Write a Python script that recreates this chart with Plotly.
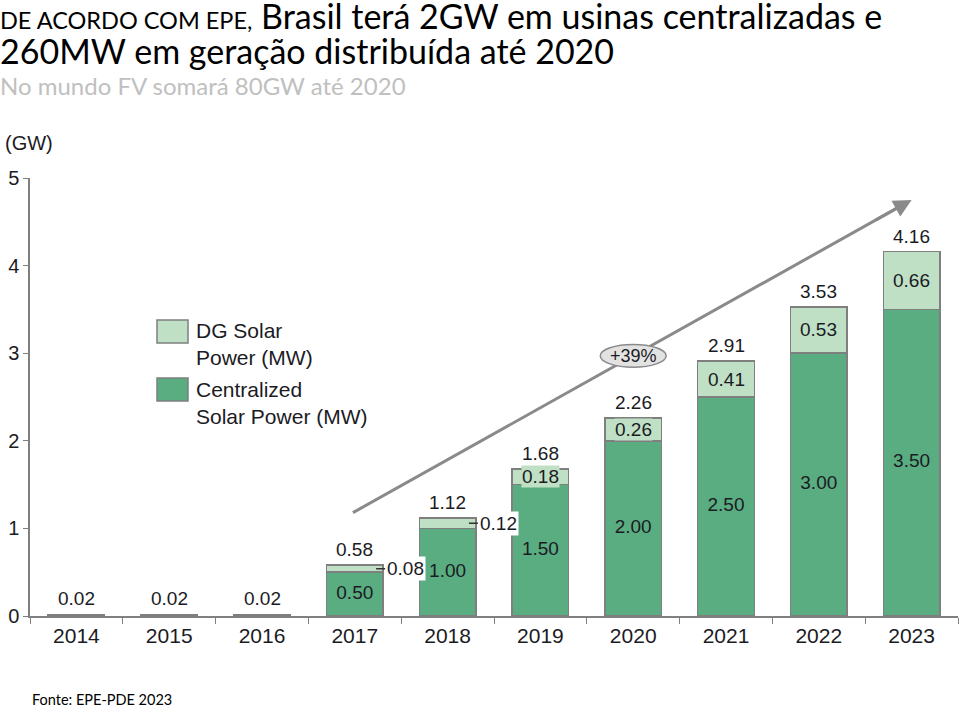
import plotly.graph_objects as go

years = ['2014', '2015', '2016', '2017', '2018', '2019', '2020', '2021', '2022', '2023']
centralized = [0.02, 0.02, 0.02, 0.50, 1.00, 1.50, 2.00, 2.50, 3.00, 3.50]
dg = [0.00, 0.00, 0.00, 0.08, 0.12, 0.18, 0.26, 0.41, 0.53, 0.66]
totals = [0.02, 0.02, 0.02, 0.58, 1.12, 1.68, 2.26, 2.91, 3.53, 4.16]
y_ticks = [0, 1, 2, 3, 4, 5]

W, H = 960, 707
ML, MT = 30, 178
PR, PB = 958, 616
MR = W - PR
MB = H - PB
PW, PH = W - ML - MR, H - MT - MB
DARK = '#5aad80'
LIGHT = '#bfe0c5'
EDGE = '#7f7f7f'
TXT = '#1b1b24'
ARIAL = 'Liberation Sans, Arial, sans-serif'
CAL = 'Lato, Carlito, Calibri, sans-serif'


def px(x):
    """window pixel x -> paper coordinate"""
    return (x - ML) / PW


def py(y):
    """window pixel y -> paper coordinate"""
    return (H - MB - y) / PH


fig = go.Figure()
fig.add_trace(go.Bar(x=years, y=centralized, name='Centralized Solar Power (MW)',
                     marker=dict(color=DARK, line=dict(color=EDGE, width=1.5)),
                     width=0.61, showlegend=False, hoverinfo='skip'))
fig.add_trace(go.Bar(x=years, y=dg, name='DG Solar Power (MW)',
                     marker=dict(color=LIGHT, line=dict(color=EDGE, width=1.5)),
                     width=0.61, showlegend=False, hoverinfo='skip'))

LBL = dict(family=ARIAL, size=19, color=TXT)

# centralized labels (inside, centred)
c_x = [yr for yr, v in zip(years, centralized) if v >= 0.1]
c_y = [v / 2 for v in centralized if v >= 0.1]
c_t = [f'{v:.2f}' for v in centralized if v >= 0.1]
fig.add_trace(go.Scatter(x=c_x, y=c_y, text=c_t, mode='text', showlegend=False,
                         textfont=LBL, hoverinfo='skip'))

annotations = []
# DG labels inside when large enough (light background box)
for i, (c, d) in enumerate(zip(centralized, dg)):
    if d >= 0.15:
        annotations.append(dict(x=i, y=c + d / 2, xref='x', yref='y', text=f'{d:.2f}',
                                showarrow=False, bgcolor=LIGHT, borderpad=0, font=LBL))

# totals above bars
for i, t in enumerate(totals):
    annotations.append(dict(x=i, y=t, xref='x', yref='y', text=f'{t:.2f}',
                            showarrow=False, yanchor='bottom', yshift=3, font=LBL))

# small DG labels with leader
for i, (c, d) in enumerate(zip(centralized, dg)):
    if 0 < d < 0.15:
        annotations.append(dict(x=i + 0.23, y=c + d / 2, xref='x', yref='y',
                                text=f'{d:.2f}', showarrow=True, arrowhead=0,
                                arrowwidth=1.5, arrowcolor='#333333', ax=9, ay=0,
                                xanchor='left', bgcolor='white', borderpad=1,
                                font=LBL))

shapes = []
# growth arrow line
ax0, ay0, ax1, ay1 = 2.98, 1.18, 9.0, 4.75
shapes.append(dict(type='line', xref='x', yref='y', x0=ax0, y0=ay0, x1=ax1 - 0.1, y1=ay1 - 0.06,
                   line=dict(color='#8a8a8a', width=3)))
annotations.append(dict(x=ax1, y=ay1, xref='x', yref='y', axref='x', ayref='y',
                        ax=ax1 - 0.4, ay=ay1 - 0.237, showarrow=True, arrowhead=2,
                        arrowsize=1.2, arrowwidth=3, arrowcolor='#8a8a8a', text=''))
# ellipse with +39%
ex, ey = 6.0, 2.97
shapes.append(dict(type='circle', xref='x', yref='y', x0=ex - 0.355, x1=ex + 0.355,
                   y0=ey - 0.13, y1=ey + 0.13, fillcolor='#e2e2e2',
                   line=dict(color='#8a8a8a', width=1.5)))
annotations.append(dict(x=ex, y=ey, xref='x', yref='y', text='+39%', showarrow=False,
                        font=dict(family=ARIAL, size=18, color=TXT)))

# legend (custom)
shapes.append(dict(type='rect', xref='paper', yref='paper', x0=px(157), x1=px(188),
                   y0=py(343), y1=py(320), fillcolor=LIGHT, line=dict(color=EDGE, width=1.5)))
shapes.append(dict(type='rect', xref='paper', yref='paper', x0=px(157), x1=px(188),
                   y0=py(401), y1=py(378), fillcolor=DARK, line=dict(color=EDGE, width=1.5)))
annotations.append(dict(x=px(194), y=py(344), xref='paper', yref='paper', xanchor='left',
                        yanchor='middle', align='left', showarrow=False,
                        text='DG Solar<br>Power (MW)', font=dict(family=ARIAL, size=21, color=TXT)))
annotations.append(dict(x=px(194), y=py(403), xref='paper', yref='paper', xanchor='left',
                        yanchor='middle', align='left', showarrow=False,
                        text='Centralized<br>Solar Power (MW)', font=dict(family=ARIAL, size=21, color=TXT)))

# unit label
annotations.append(dict(x=px(3), y=py(143), xref='paper', yref='paper', xanchor='left',
                        yanchor='middle', showarrow=False, text='(GW)',
                        font=dict(family=ARIAL, size=20, color=TXT)))

# titles
annotations.append(dict(x=px(-2), y=py(15), xref='paper', yref='paper', xanchor='left', yanchor='middle',
                        showarrow=False,
                        text='<span style="font-size:23.5px">DE ACORDO COM EPE,</span> Brasil terá 2GW em usinas centralizadas e',
                        font=dict(family=CAL, size=34, color='black')))
annotations.append(dict(x=px(-2), y=py(50), xref='paper', yref='paper', xanchor='left', yanchor='middle',
                        showarrow=False, text='260MW em geração distribuída até 2020',
                        font=dict(family=CAL, size=34, color='black')))
annotations.append(dict(x=px(-2), y=py(85), xref='paper', yref='paper', xanchor='left', yanchor='middle',
                        showarrow=False, text='No mundo FV somará 80GW até 2020',
                        font=dict(family=CAL, size=24, color='#c0c0c0')))
annotations.append(dict(x=px(30), y=py(699), xref='paper', yref='paper', xanchor='left', yanchor='middle',
                        showarrow=False, text='Fonte: EPE-PDE 2023',
                        font=dict(family=CAL, size=14.5, color='black')))

fig.update_layout(
    width=W, height=H, margin=dict(l=ML, r=MR, t=MT, b=MB, autoexpand=False),
    paper_bgcolor='white', plot_bgcolor='white', barmode='stack',
    showlegend=False, shapes=shapes, annotations=annotations,
    xaxis=dict(type='category', range=[-0.5, 9.5], automargin=False,
               showline=True, linecolor='#808080', linewidth=1.5, ticks='outside',
               tickson='boundaries', ticklen=6, tickcolor='#808080', showgrid=False,
               tickfont=dict(family=ARIAL, size=21, color=TXT)),
    yaxis=dict(range=[0, 5], tickvals=y_ticks, automargin=False,
               showline=True, linecolor='#808080', linewidth=1.5, ticks='outside',
               ticklen=5, tickcolor='#808080', showgrid=False, zeroline=False,
               tickfont=dict(family=ARIAL, size=20, color=TXT)),
)

# remove the default 8px page margin so the figure fills the window exactly
fig.write_html('out.html', config={'displayModeBar': False},
               post_script="document.body.style.margin='0';")
